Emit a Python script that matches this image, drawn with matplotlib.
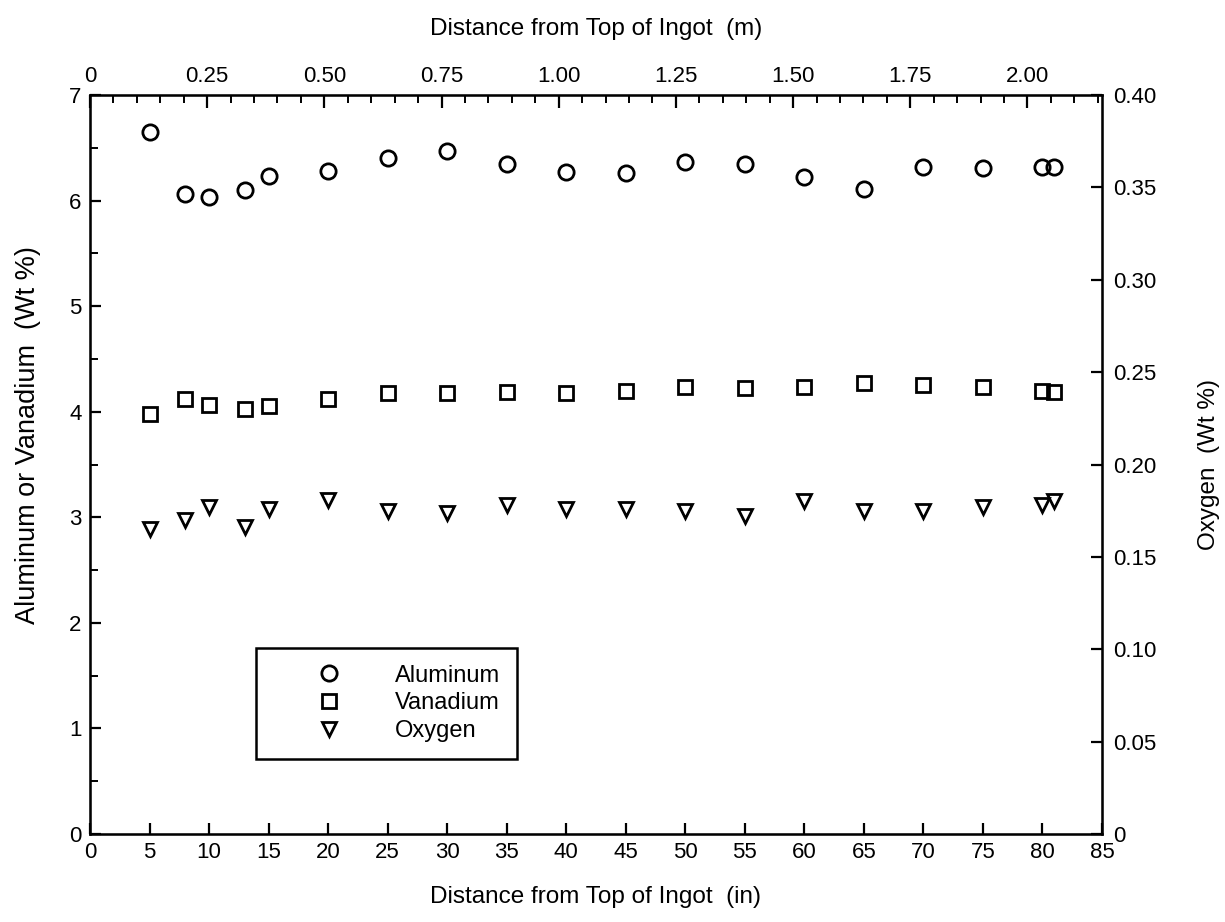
import matplotlib
matplotlib.use("Agg")
import matplotlib.pyplot as plt
from matplotlib.ticker import MultipleLocator, FuncFormatter

plt.rcParams['font.family'] = ['Liberation Sans', 'DejaVu Sans']

# Data
distance_in = [5, 8, 10, 13, 15, 20, 25, 30, 35, 40, 45, 50, 55, 60, 65, 70, 75, 80, 81]
aluminum = [6.65, 6.06, 6.03, 6.10, 6.23, 6.28, 6.40, 6.47, 6.35, 6.27, 6.26, 6.37, 6.35,
            6.22, 6.11, 6.32, 6.31, 6.32, 6.32]
vanadium = [3.98, 4.12, 4.06, 4.03, 4.05, 4.12, 4.18, 4.18, 4.19, 4.18, 4.20, 4.23, 4.22,
            4.23, 4.27, 4.25, 4.23, 4.20, 4.19]
oxygen = [0.165, 0.170, 0.177, 0.166, 0.176, 0.181, 0.175, 0.174, 0.178, 0.176,
          0.176, 0.175, 0.172, 0.180, 0.175, 0.175, 0.177, 0.178, 0.180]
labels = ["Aluminum", "Vanadium", "Oxygen"]

IN_PER_M = 39.37

fig = plt.figure(figsize=(12.25, 9.22), dpi=100)
ax = fig.add_axes([90/1225, (922-834)/922, (1102-90)/1225, (834-95)/922])

mk = dict(linestyle='none', markerfacecolor='none', markeredgecolor='black', markeredgewidth=2.0)
h1, = ax.plot(distance_in, aluminum, marker='o', markersize=11, **mk)
h2, = ax.plot(distance_in, vanadium, marker='s', markersize=9.5, **mk)

TICK_FS = 16
LABEL_FS = 17.5

ax.set_xlim(0, 85)
ax.set_ylim(0, 7)
ax.xaxis.set_major_locator(MultipleLocator(5))
ax.yaxis.set_major_locator(MultipleLocator(1))
ax.yaxis.set_minor_locator(MultipleLocator(0.5))
ax.tick_params(axis='both', which='major', direction='in', length=8, width=1.6, labelsize=TICK_FS)
ax.tick_params(axis='y', which='minor', direction='in', length=6, width=1.4)
ax.tick_params(axis='x', which='major', pad=6)
ax.tick_params(axis='y', which='major', pad=6)
for s in ax.spines.values():
    s.set_linewidth(1.8)
ax.set_xlabel("Distance from Top of Ingot  (in)", fontsize=LABEL_FS, labelpad=16)
ax.set_ylabel("Aluminum or Vanadium  (Wt %)", fontsize=19.5)
ax.yaxis.set_label_coords(-0.048, (834 - 435) / 739)

# Right axis: oxygen
ax2 = ax.twinx()
h3, = ax2.plot(distance_in, oxygen, marker='v', markersize=10.5, **mk)
ax2.set_ylim(0, 0.40)
ax2.yaxis.set_major_locator(MultipleLocator(0.05))
ax2.yaxis.set_major_formatter(FuncFormatter(lambda v, p: "0" if abs(v) < 1e-9 else f"{v:.2f}"))
ax2.tick_params(axis='y', which='major', direction='in', length=8, width=1.6,
                labelsize=TICK_FS, pad=8)
ax2.set_ylabel("Oxygen  (Wt %)", fontsize=LABEL_FS, labelpad=30)

# Top axis: meters
ax3 = ax.twiny()
ax3.set_xlim(0, 85 / IN_PER_M)
ax3.xaxis.set_major_locator(MultipleLocator(0.25))
ax3.xaxis.set_minor_locator(MultipleLocator(0.05))
ax3.xaxis.set_major_formatter(FuncFormatter(lambda v, p: "0" if abs(v) < 1e-9 else f"{v:.2f}"))
ax3.tick_params(axis='x', which='major', direction='in', length=9, width=1.6,
                labelsize=TICK_FS, pad=6)
ax3.tick_params(axis='x', which='minor', direction='in', length=6, width=1.4)
ax3.set_xlabel("Distance from Top of Ingot  (m)", fontsize=LABEL_FS, labelpad=22)

leg = ax3.legend([h1, h2, h3], labels, loc='upper left',
                 bbox_to_anchor=(256/1225, 1 - 648/922),
                 bbox_transform=fig.transFigure, frameon=True, fancybox=False,
                 fontsize=17, handlelength=4.8, handletextpad=0.4, borderpad=0.7,
                 labelspacing=0.25, borderaxespad=0)
leg.get_frame().set_edgecolor('black')
leg.get_frame().set_linewidth(1.8)
leg.get_frame().set_alpha(1)

fig.savefig("out.png", dpi=100)
